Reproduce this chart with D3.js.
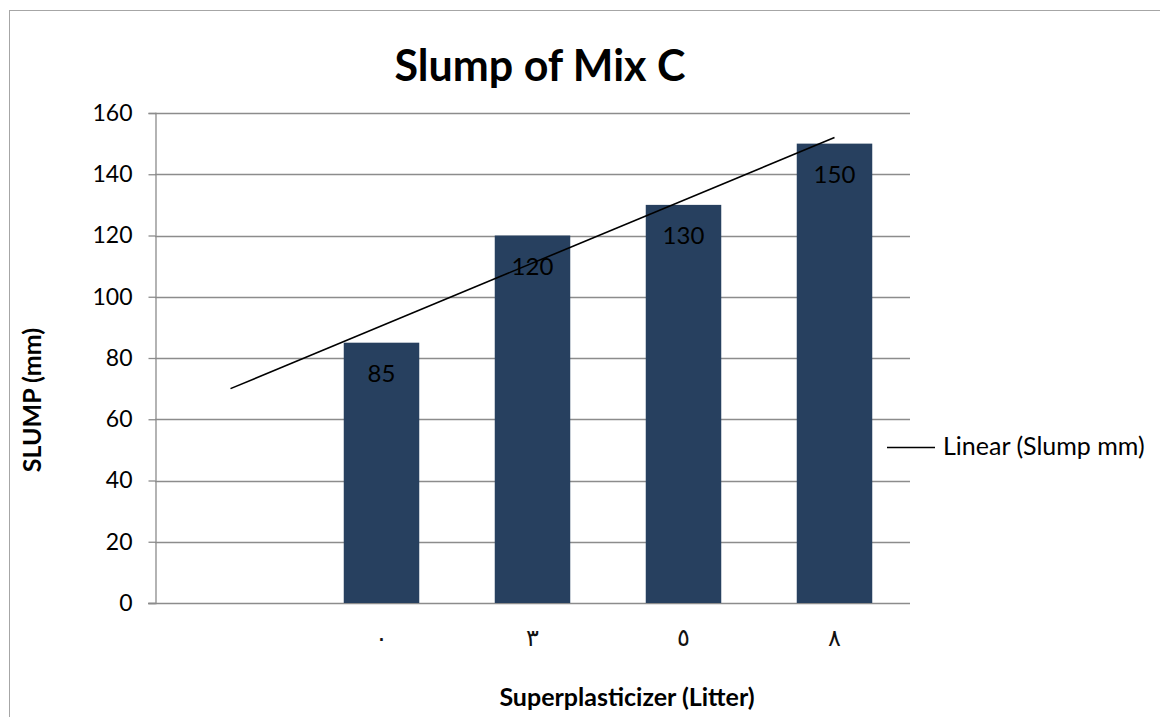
<!DOCTYPE html>
<html>
<head>
<meta charset="utf-8">
<script src="https://cdn.jsdelivr.net/npm/d3@7"></script>
<style>
  html, body { margin: 0; padding: 0; background: #fff; }
  svg { display: block; font-family: Lato, "Open Sans", sans-serif; }
</style>
</head>
<body>
<svg id="chart" width="1160" height="717"></svg>
<script>
// Slump of Mix C: slump (mm) against superplasticizer dosage (litres)
const categories = ["", "٠", "٣", "٥", "٨"];
const slump = [null, 85, 120, 130, 150];
const yTicks = [0, 20, 40, 60, 80, 100, 120, 140, 160];
const chartTitle = "Slump of Mix C";
const xTitle = "Superplasticizer (Litter)";
const yTitle = "SLUMP (mm)";
const legendLabel = "Linear (Slump mm)";

const svg = d3.select("#chart");
const W = 1160, H = 717;
const plot = { left: 155, right: 910, top: 113, bottom: 603 };
const barColor = "#27405f";
const gridColor = "#8c8c8c";

// chart area frame
svg.append("rect")
  .attr("x", 9.5).attr("y", 10.5)
  .attr("width", W).attr("height", H)
  .attr("fill", "#fff").attr("stroke", "#a6a6a6").attr("stroke-width", 1);

const x = d3.scaleBand().domain(d3.range(categories.length))
  .range([plot.left, plot.right]).paddingInner(0.5).paddingOuter(0.25);
const y = d3.scaleLinear().domain([0, 160]).range([plot.bottom, plot.top]);

// horizontal gridlines
svg.append("g").selectAll("line").data(yTicks.filter(d => d > 0)).join("line")
  .attr("x1", plot.left).attr("x2", plot.right)
  .attr("y1", d => Math.round(y(d)) + 0.5).attr("y2", d => Math.round(y(d)) + 0.5)
  .attr("stroke", gridColor).attr("stroke-width", 1.3);

// y axis
const yAxis = svg.append("g")
  .attr("transform", `translate(${plot.left + 0.5},0)`)
  .call(d3.axisLeft(y).tickValues(yTicks).tickSize(7).tickPadding(16).tickFormat(d3.format("d")));
yAxis.select(".domain").attr("stroke", gridColor).attr("stroke-width", 1.3);
yAxis.selectAll(".tick line").attr("stroke", gridColor).attr("stroke-width", 1.3);
yAxis.selectAll(".tick text")
  .attr("fill", "#000").style("font-size", "23px").style("font-family", "Lato, sans-serif");

// x axis line
svg.append("line")
  .attr("x1", plot.left - 7).attr("x2", plot.right)
  .attr("y1", Math.round(y(0)) + 0.5).attr("y2", Math.round(y(0)) + 0.5)
  .attr("stroke", gridColor).attr("stroke-width", 1.3);

// category labels (Arabic-Indic digits)
svg.append("g").selectAll("text").data(categories).join("text")
  .attr("x", (d, i) => x(i) + x.bandwidth() / 2)
  .attr("y", 646)
  .attr("text-anchor", "middle")
  .style("font-size", "24px")
  .style("font-family", "'DejaVu Sans', 'Noto Sans', sans-serif")
  .attr("fill", "#111")
  .text(d => d);

// bars
const barData = slump.map((v, i) => ({ i, v })).filter(d => d.v != null);
svg.append("g").selectAll("rect").data(barData).join("rect")
  .attr("x", d => x(d.i)).attr("width", x.bandwidth())
  .attr("y", d => y(d.v)).attr("height", d => y(0) - y(d.v))
  .attr("fill", barColor);

// value labels inside the top of each bar
svg.append("g").selectAll("text").data(barData).join("text")
  .attr("x", d => x(d.i) + x.bandwidth() / 2)
  .attr("y", d => y(d.v) + 39)
  .attr("text-anchor", "middle")
  .style("font-size", "24px")
  .attr("fill", "#000")
  .text(d => d.v);

// least-squares linear trendline over category positions 1..n
const pts = barData.map(d => ({ t: d.i + 1, v: d.v }));
const mt = d3.mean(pts, p => p.t), mv = d3.mean(pts, p => p.v);
const slope = d3.sum(pts, p => (p.t - mt) * (p.v - mv)) / d3.sum(pts, p => (p.t - mt) ** 2);
const icpt = mv - slope * mt;
const trendX = [1, categories.length];
svg.append("line")
  .attr("x1", x(trendX[0] - 1) + x.bandwidth() / 2)
  .attr("y1", y(icpt + slope * trendX[0]))
  .attr("x2", x(trendX[1] - 1) + x.bandwidth() / 2)
  .attr("y2", y(icpt + slope * trendX[1]))
  .attr("stroke", "#000").attr("stroke-width", 1.6);

// title
svg.append("text")
  .attr("x", 540).attr("y", 81)
  .attr("text-anchor", "middle")
  .style("font-size", "43px").style("font-weight", "bold")
  .attr("fill", "#000")
  .text(chartTitle);

// axis titles
svg.append("text")
  .attr("x", 627).attr("y", 706)
  .attr("text-anchor", "middle")
  .style("font-size", "25px").style("font-weight", "bold")
  .attr("fill", "#000")
  .text(xTitle);

svg.append("text")
  .attr("transform", "translate(41,400) rotate(-90)")
  .attr("text-anchor", "middle")
  .style("font-size", "25px").style("font-weight", "bold")
  .attr("fill", "#000")
  .text(yTitle);

// legend
const lg = svg.append("g").attr("transform", "translate(887,447)");
lg.append("line").attr("x1", 0).attr("x2", 48).attr("y1", 0.5).attr("y2", 0.5)
  .attr("stroke", "#000").attr("stroke-width", 1.6);
lg.append("text").attr("x", 56).attr("y", 8)
  .style("font-size", "25px").attr("fill", "#000")
  .text(legendLabel);
</script>
</body>
</html>
